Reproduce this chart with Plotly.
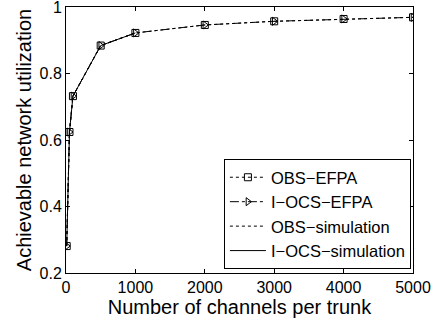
import plotly.graph_objects as go

channels = [10, 50, 100, 500, 1000, 2000, 3000, 4000, 5000]
obs_efpa = [0.281, 0.624, 0.732, 0.884, 0.922, 0.946, 0.957, 0.964, 0.969]
iocs_efpa = [0.281, 0.624, 0.732, 0.884, 0.922, 0.946, 0.957, 0.964, 0.969]
sim_channels = [10, 50, 100, 500, 1000]
obs_sim = [0.281, 0.624, 0.732, 0.884, 0.922]
iocs_sim = [0.281, 0.624, 0.732, 0.884, 0.922]

FONT = "Liberation Sans, Arial, sans-serif"

fig = go.Figure()
fig.add_trace(go.Scatter(x=channels, y=obs_efpa, name="OBS\u2212EFPA", mode="lines+markers",
                         line=dict(color="black", width=1, dash="dot"),
                         marker=dict(symbol="square-open", size=7, color="black", line=dict(width=1))))
fig.add_trace(go.Scatter(x=channels, y=iocs_efpa, name="I\u2212OCS\u2212EFPA", mode="lines+markers",
                         line=dict(color="black", width=1, dash="dashdot"),
                         marker=dict(symbol="triangle-right-open", size=7, color="black", line=dict(width=1))))
fig.add_trace(go.Scatter(x=sim_channels, y=obs_sim, name="OBS\u2212simulation", mode="lines",
                         line=dict(color="black", width=1, dash="dot")))
fig.add_trace(go.Scatter(x=sim_channels, y=iocs_sim, name="I\u2212OCS\u2212simulation", mode="lines",
                         line=dict(color="black", width=1)))

axis_common = dict(showgrid=False, zeroline=False, showline=True, linecolor="black", linewidth=1,
                   mirror="ticks", ticks="inside", ticklen=4, tickcolor="black", automargin=False,
                   ticklabeloverflow="allow",
                   tickfont=dict(family=FONT, size=16, color="black"))
fig.update_xaxes(range=[0, 5000], tickvals=[0, 1000, 2000, 3000, 4000, 5000],
                 title=dict(text="Number of channels per trunk", font=dict(family=FONT, size=20, color="black"), standoff=0),
                 **axis_common)
fig.update_yaxes(range=[0.2, 1.0], tickvals=[0.2, 0.4, 0.6, 0.8, 1.0], ticktext=["0.2", "0.4", "0.6", "0.8", "1"],
                 title=dict(text="Achievable network utilization", font=dict(family=FONT, size=20, color="black"), standoff=2),
                 **axis_common)

fig.update_layout(width=437, height=320, margin=dict(l=66, r=24, t=7, b=47),
                  paper_bgcolor="white", plot_bgcolor="white",
                  font=dict(family=FONT, color="black"),
                  legend=dict(x=0.994, y=0.015, xanchor="right", yanchor="bottom",
                              bordercolor="black", borderwidth=1, bgcolor="white",
                              font=dict(family=FONT, size=16.5, color="black"),
                              itemwidth=36, tracegroupgap=0))

fig.write_html("out.html", config={"displayModeBar": False},
               post_script="document.body.style.margin='0';document.body.style.overflow='hidden';")
